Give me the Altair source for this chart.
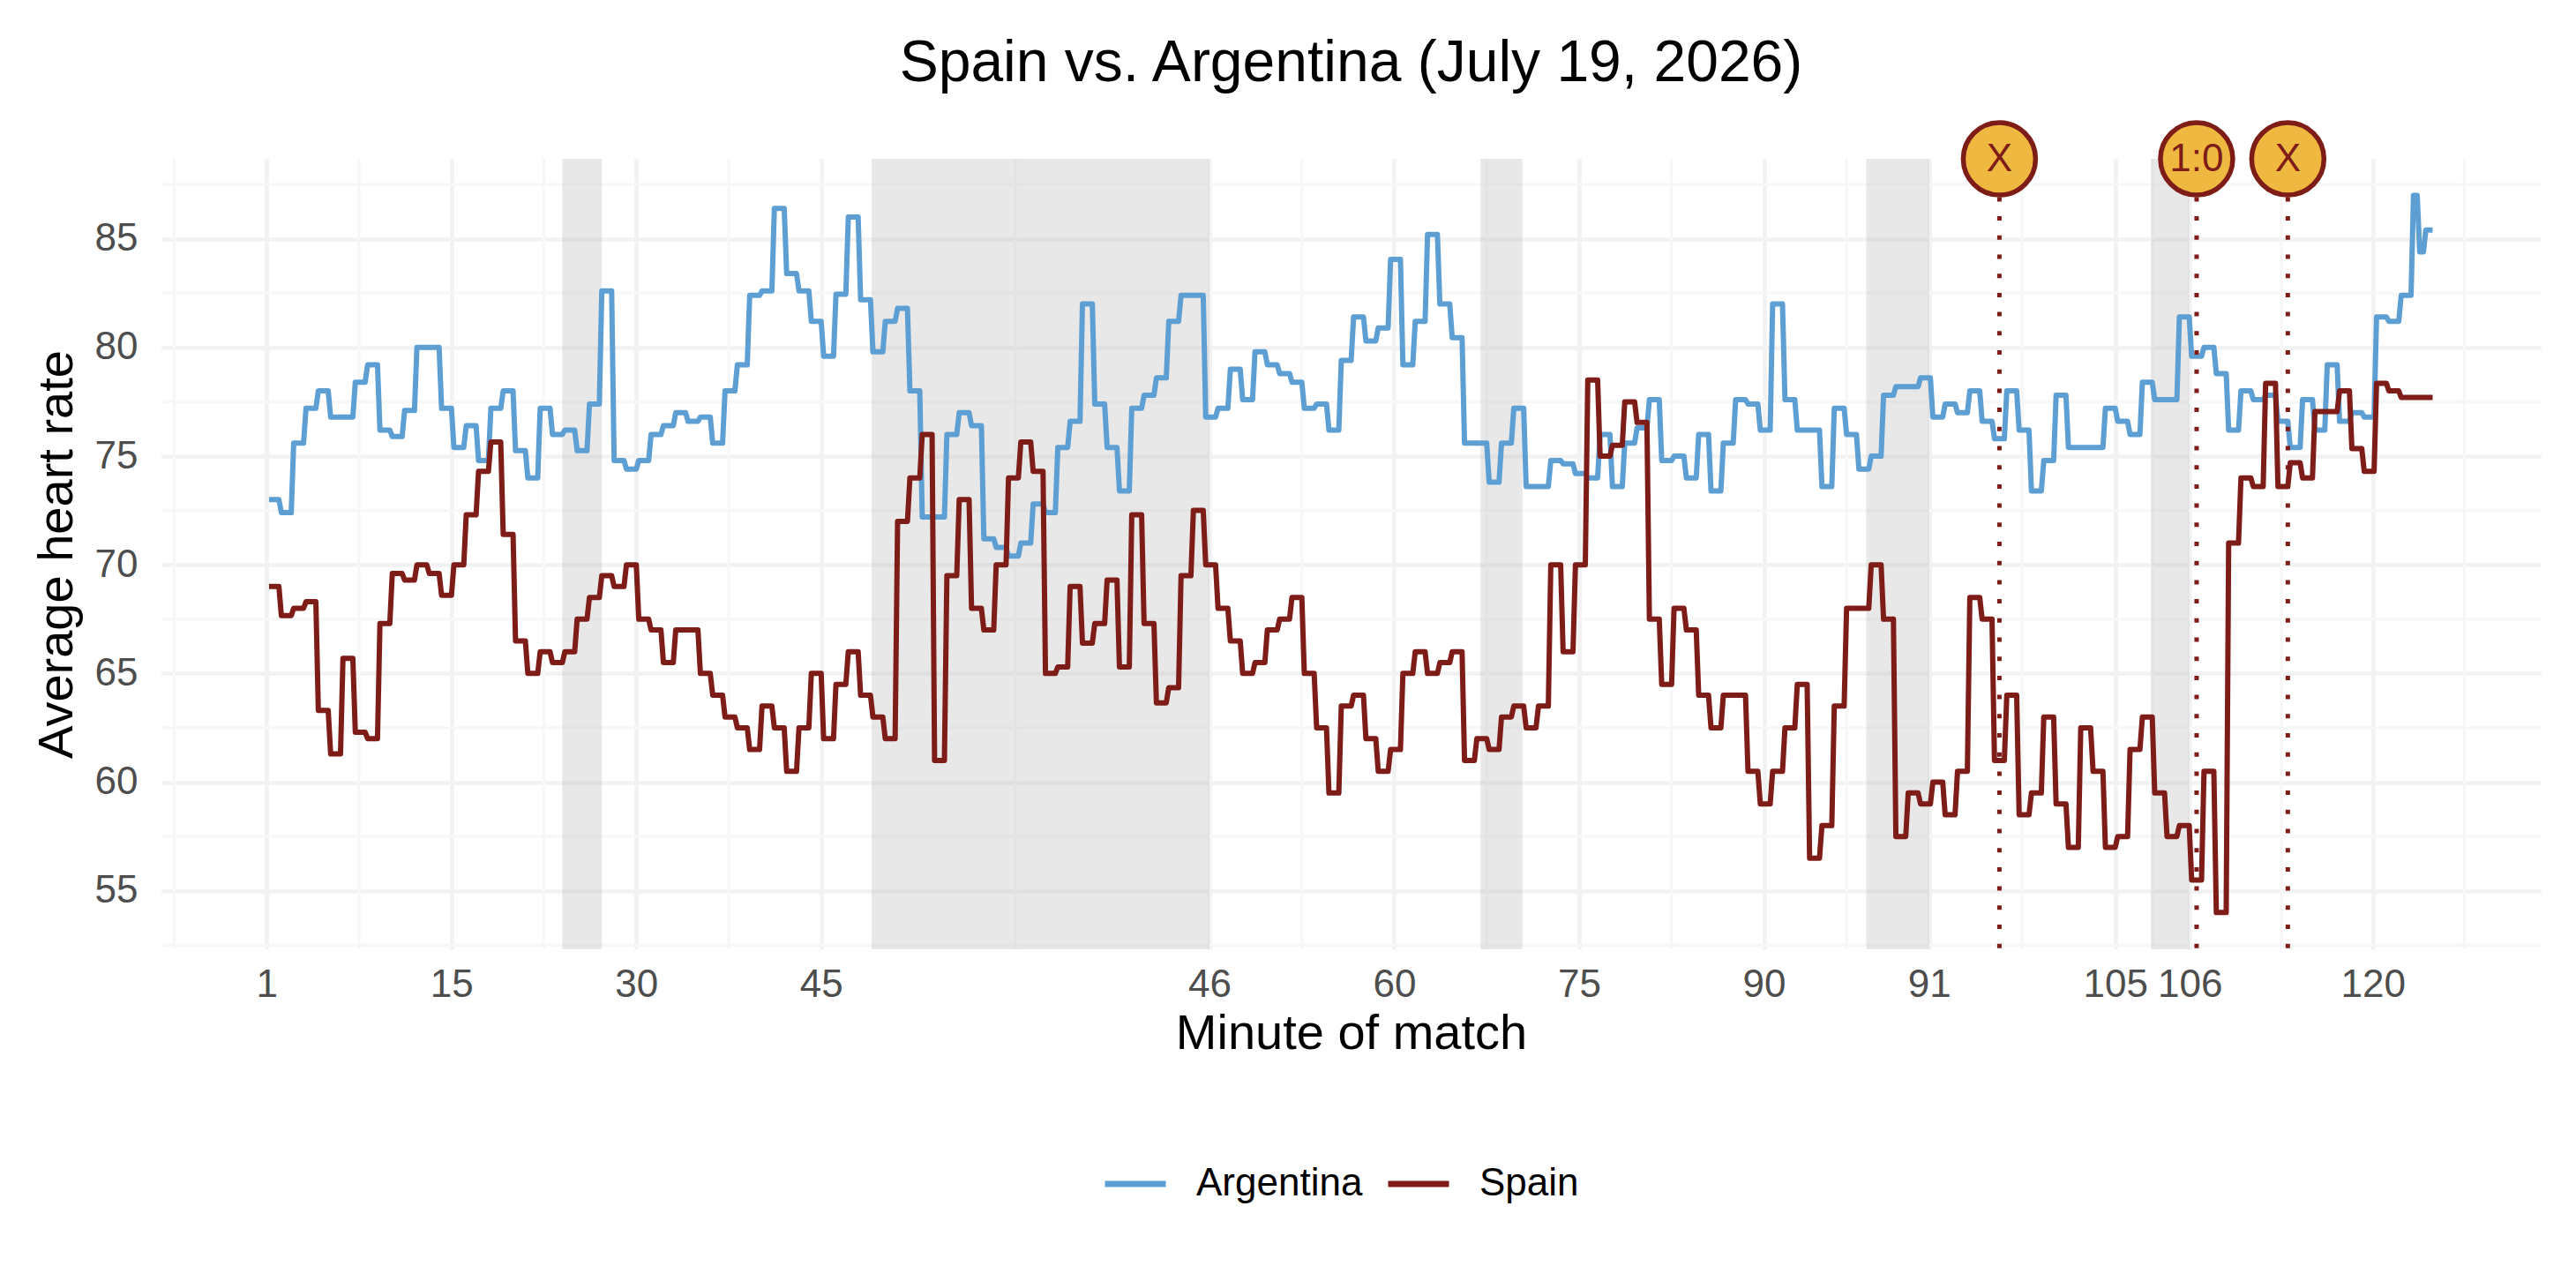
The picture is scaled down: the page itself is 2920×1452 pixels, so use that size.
import json

import altair as alt
import pandas as pd

FONT = "Liberation Sans"
TEAMS = ["Argentina", "Spain"]
TEAM_COLORS = ["#5E9FD3", "#7E1C18"]
EVENT_RED = "#7E1C18"
EVENT_FILL = "#EFB840"

# one sample per elapsed minute, the last few come in faster
SAMPLE_MINUTE = list(range(174)) + [174, 174.5, 175]
LAST_SAMPLE_END = 175.75

ARGENTINA_HR = [
    73.0, 72.4, 75.6, 77.2, 78.0, 76.8, 76.8, 78.4, 79.2, 76.2,
    75.9, 77.1, 80.0, 80.0, 77.2, 75.4, 76.4, 74.8, 77.2, 78.0,
    75.25, 74.0, 77.2, 76.0, 76.2, 75.25, 77.4, 82.6, 74.8, 74.4,
    74.8, 76.0, 76.4, 77.0, 76.6, 76.8, 75.6, 78.0, 79.2, 82.4,
    82.6, 86.4, 83.4, 82.6, 81.2, 79.6, 82.45, 86.0, 82.2, 79.8,
    81.2, 81.8, 78.0, 72.2, 72.2, 76.0, 77.0, 76.4, 71.2, 70.8,
    70.4, 71.0, 72.8, 72.4, 75.4, 76.6, 82.0, 77.4, 75.4, 73.4,
    77.2, 77.8, 78.6, 81.2, 82.4, 82.4, 76.8, 77.2, 79.0, 77.6,
    79.8, 79.2, 78.8, 78.4, 77.2, 77.4, 76.2, 79.4, 81.4, 80.3,
    80.9, 84.05, 79.2, 81.2, 85.2, 82.0, 80.45, 75.6, 75.6, 73.8,
    75.6, 77.2, 73.6, 73.6, 74.8, 74.65, 74.2, 74.0, 76.0, 73.6,
    75.6, 76.3, 77.6, 74.8, 75.0, 74.0, 76.0, 73.4, 75.6, 77.6,
    77.4, 76.2, 82.0, 77.6, 76.2, 76.2, 73.6, 77.2, 76.0, 74.4,
    75.0, 77.8, 78.2, 78.2, 78.6, 76.8, 77.4, 77.0, 78.0, 76.6,
    75.8, 78.0, 76.2, 73.4, 74.8, 77.8, 75.4, 75.4, 75.4, 77.2,
    76.6, 76.0, 78.4, 77.6, 77.6, 81.4, 79.6, 80.0, 78.8, 76.2,
    78.0, 77.6, 77.8, 76.6, 75.4, 77.6, 76.2, 79.2, 76.6, 77.0,
    76.8, 81.4, 81.2, 82.4, 87.0, 84.4, 85.4,
]

SPAIN_HR = [
    69.0, 67.66, 68.0, 68.3, 63.3, 61.3, 65.7, 62.3, 62.0, 67.3,
    69.6, 69.3, 70.0, 69.6, 68.6, 70.0, 72.3, 74.3, 75.65, 71.4,
    66.5, 65.0, 66.0, 65.5, 66.0, 67.5, 68.5, 69.5, 69.0, 70.0,
    67.5, 67.0, 65.5, 67.0, 67.0, 65.0, 64.0, 63.0, 62.5, 61.5,
    63.5, 62.5, 60.5, 62.5, 65.0, 62.0, 64.5, 66.0, 64.0, 63.0,
    62.0, 72.0, 74.0, 76.0, 61.0, 69.5, 73.0, 68.0, 67.0, 70.0,
    74.0, 75.65, 74.3, 65.0, 65.3, 69.0, 66.4, 67.3, 69.3, 65.3,
    72.3, 67.3, 63.65, 64.35, 69.5, 72.5, 70.0, 68.0, 66.5, 65.0,
    65.5, 67.0, 67.5, 68.5, 65.0, 62.5, 59.5, 63.5, 64.0, 62.0,
    60.5, 61.5, 65.0, 66.0, 65.0, 65.5, 66.0, 61.0, 62.0, 61.5,
    63.0, 63.5, 62.5, 63.5, 70.0, 66.0, 70.0, 78.5, 75.0, 75.5,
    77.5, 76.55, 67.5, 64.5, 68.0, 67.0, 64.0, 62.5, 64.0, 64.0,
    60.5, 59.0, 60.5, 62.5, 64.5, 56.5, 58.0, 63.5, 68.0, 68.0,
    70.0, 67.5, 57.5, 59.5, 59.0, 60.0, 58.5, 60.5, 68.5, 67.5,
    61.0, 64.0, 58.5, 59.5, 63.0, 59.0, 57.0, 62.5, 60.5, 57.0,
    57.5, 61.5, 63.0, 59.5, 57.5, 58.0, 55.5, 60.5, 54.0, 71.0,
    74.0, 73.6, 78.35, 73.6, 74.7, 74.0, 77.05, 77.05, 78.0, 75.35,
    74.3, 78.35, 78.0, 77.7, 77.7, 77.7, 77.7,
]

# x axis: elapsed minutes, labelled with the match minute
TICK_POS = [0, 15, 30, 45, 76.5, 91.5, 106.5, 121.5, 134.9, 150, 156.05, 170.9]
TICK_LABELS = ["1", "15", "30", "45", "46", "60", "75", "90", "91", "105", "106", "120"]
Y_TICKS = [55, 60, 65, 70, 75, 80, 85]

# breaks in play (drinks, half time, before extra time, extra-time half time)
BREAK_START = [24.0, 49.1, 98.5, 129.8, 152.9]
BREAK_END = [27.2, 76.5, 101.9, 134.9, 156.0]

EVENT_POS = [140.6, 156.6, 164.0]
EVENT_LABELS = ["X", "1:0", "X"]

X_DOMAIN = [-8.53, 184.52]
Y_DOMAIN = [52.31, 88.68]

PLOT_W = 2697
PLOT_H = 896


def minor_breaks(major):
    mids = [(a + b) / 2 for a, b in zip(major[:-1], major[1:])]
    first = major[0] - (major[1] - major[0]) / 2
    last = major[-1] + (major[-1] - major[-2]) / 2
    return [first] + mids + [last]


rows = []
for team, values in zip(TEAMS, [ARGENTINA_HR, SPAIN_HR]):
    for i, v in enumerate(values):
        end = SAMPLE_MINUTE[i + 1] if i + 1 < len(values) else LAST_SAMPLE_END
        rows.append({"team": team, "t": SAMPLE_MINUTE[i] + 0.2, "hr": v})
        rows.append({"team": team, "t": end, "hr": v})
hr = pd.DataFrame(rows)

breaks = pd.DataFrame({"start": BREAK_START, "end": BREAK_END})
events = pd.DataFrame({"t": EVENT_POS, "label": EVENT_LABELS, "y": Y_DOMAIN[1]})
minor_x = pd.DataFrame({"t": minor_breaks(TICK_POS)})
minor_y = pd.DataFrame({"hr": minor_breaks(Y_TICKS)})

x_scale = alt.Scale(domain=X_DOMAIN, nice=False, zero=False)
y_scale = alt.Scale(domain=Y_DOMAIN, nice=False, zero=False)

label_expr = f"{json.dumps(TICK_LABELS)}[indexof({json.dumps(TICK_POS)}, datum.value)]"

x_axis = alt.Axis(
    values=TICK_POS,
    labelExpr=label_expr,
    title="Minute of match",
    grid=True,
    ticks=False,
    tickSize=0,
    domain=False,
    labelOverlap=False,
    labelFlush=False,
    labelPadding=18,
    titlePadding=6,
)
y_axis = alt.Axis(
    values=Y_TICKS,
    title="Average heart rate",
    grid=True,
    ticks=False,
    tickSize=0,
    domain=False,
    labelPadding=27,
    titlePadding=14,
)

minor_x_rules = (
    alt.Chart(minor_x)
    .mark_rule(color="#F7F7F7", strokeWidth=3.2)
    .encode(x=alt.X("t:Q", scale=x_scale, axis=x_axis))
)
minor_y_rules = (
    alt.Chart(minor_y)
    .mark_rule(color="#F7F7F7", strokeWidth=3.2)
    .encode(y=alt.Y("hr:Q", scale=y_scale, axis=y_axis))
)

bands = (
    alt.Chart(breaks)
    .mark_rect(color="#BDBDBD", opacity=0.35)
    .encode(x=alt.X("start:Q", scale=x_scale), x2="end:Q")
)

lines = (
    alt.Chart(hr)
    .mark_line(strokeWidth=6, strokeJoin="round")
    .encode(
        x=alt.X("t:Q", scale=x_scale),
        y=alt.Y("hr:Q", scale=y_scale),
        color=alt.Color(
            "team:N",
            scale=alt.Scale(domain=TEAMS, range=TEAM_COLORS),
            legend=alt.Legend(
                orient="none",
                legendX=1066,
                legendY=1124,
                direction="horizontal",
                title=None,
                symbolType="stroke",
                symbolSize=4761,
                symbolStrokeWidth=7,
                labelFontSize=44,
                labelFont=FONT,
                labelColor="black",
                labelOffset=31,
                labelLimit=0,
                columnPadding=14,
                padding=0,
            ),
        ),
        order="t:Q",
    )
)

event_rules = (
    alt.Chart(events)
    .mark_rule(color=EVENT_RED, strokeWidth=5, strokeDash=[5, 16.7])
    .encode(x=alt.X("t:Q", scale=x_scale))
)
event_dots = (
    alt.Chart(events)
    .mark_point(shape="circle", filled=False, fill=EVENT_FILL, fillOpacity=1,
                stroke=EVENT_RED, strokeWidth=5.5, opacity=1, size=6724)
    .encode(x=alt.X("t:Q", scale=x_scale), y=alt.Y("y:Q", scale=y_scale))
)
event_text = (
    alt.Chart(events)
    .mark_text(font=FONT, fontSize=44, color=EVENT_RED, baseline="middle", align="center", dy=1)
    .encode(x=alt.X("t:Q", scale=x_scale), y=alt.Y("y:Q", scale=y_scale), text="label:N")
)

chart = (
    alt.layer(minor_x_rules, minor_y_rules, bands, lines, event_rules, event_dots, event_text)
    .properties(
        width=PLOT_W,
        height=PLOT_H,
        autosize=alt.AutoSizeParams(type="none"),
        padding={"left": 175, "top": 172, "right": 32, "bottom": 368},
        background="white",
        title=alt.TitleParams(
            "Spain vs. Argentina (July 19, 2026)",
            font=FONT,
            fontSize=66,
            fontWeight="normal",
            color="black",
            anchor="middle",
            frame="group",
            offset=22,
        ),
    )
    .configure_view(stroke=None)
    .configure_axis(
        labelFont=FONT,
        labelFontSize=44,
        labelColor="#4D4D4D",
        titleFont=FONT,
        titleFontSize=56,
        titleFontWeight="normal",
        titleColor="black",
        gridColor="#F2F2F2",
        gridWidth=4.7,
    )
)

chart.save("out.html", embed_options={"renderer": "svg", "actions": False})
